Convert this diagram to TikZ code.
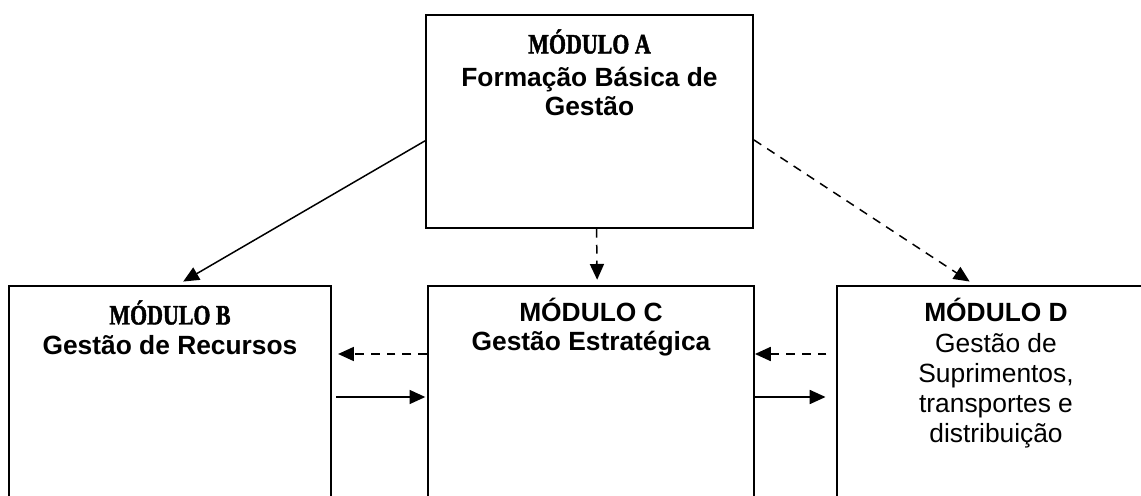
\documentclass[tikz,border=0pt]{standalone}
\usepackage{fontspec}
\setmainfont{Liberation Sans}
\newfontfamily\modfont[FakeStretch=0.78,FakeBold=1.5]{Liberation Serif}
\usetikzlibrary{arrows.meta}

\tikzset{
    modbox/.style={draw, line width=1.1pt, inner sep=0pt},
    modtext/.style={anchor=north, align=center, inner sep=0pt, font=\fontsize{15}{16.5}\selectfont\bfseries},
    seta/.style={line width=0.85pt, -{Triangle[length=9pt,width=8pt]}},
    setatr/.style={seta, dash pattern=on 5pt off 4pt},
}
\newcommand{\modtitle}[1]{{\modfont\fontsize{16}{16.5}\selectfont\bfseries #1}}

\begin{document}
\begin{tikzpicture}[x=0.02cm, y=-0.02cm]
        \useasboundingbox (0,0) rectangle (1141,496);
        \clip (0,0) rectangle (1141,496);

        \node [modbox, minimum width=6.54cm, minimum height=4.26cm] (A) at (589.5,121.5) {};
        \node [modbox, minimum width=6.44cm, minimum height=4.88cm] (B) at (170,408) {};
        \node [modbox, minimum width=6.52cm, minimum height=4.88cm] (C) at (591,408) {};
        \node [modbox, minimum width=6.36cm, minimum height=4.88cm] (D) at (996,408) {};

        \node [modtext] (At) at ([yshift=-8.5pt]A.north)
            {\modtitle{MÓDULO A}\\[2.5pt] Formação Básica de\\ Gestão};
        \node [modtext] (Bt) at ([yshift=-8.5pt]B.north)
            {\modtitle{MÓDULO B}\\[0.5pt] Gestão de Recursos};
        \node [modtext] (Ct) at ([yshift=-7.5pt]C.north)
            {MÓDULO C\\ Gestão Estratégica};
        \node [modtext, font=\fontsize{15}{17.2}\selectfont] (Dt) at ([yshift=-7.5pt]D.north)
            {\textbf{MÓDULO D}\\ Gestão de\\ Suprimentos,\\ transportes e\\ distribuição};

        \coordinate (r1) at (0,354);
        \coordinate (r2) at (0,397);

        \draw [seta] ([yshift=-11pt]A.west) -- ([xshift=7.5pt,yshift=2pt]B.north);
        \draw [setatr] ([xshift=4pt]A.south) -- ([xshift=3.5pt,yshift=3pt]C.north);
        \draw [setatr] ([yshift=-10.5pt]A.east) -- ([xshift=-15pt,yshift=2pt]D.north);
        \draw [setatr, shorten >=3.5pt] (C.west |- r1) -- (B.east |- r1);
        \draw [seta, shorten <=2.5pt, shorten >=1pt] (B.east |- r2) -- (C.west |- r2);
        \draw [setatr, shorten <=5.5pt] (D.west |- r1) -- (C.east |- r1);
        \draw [seta, shorten >=6pt] (C.east |- r2) -- (D.west |- r2);
    \end{tikzpicture}
\end{document}
